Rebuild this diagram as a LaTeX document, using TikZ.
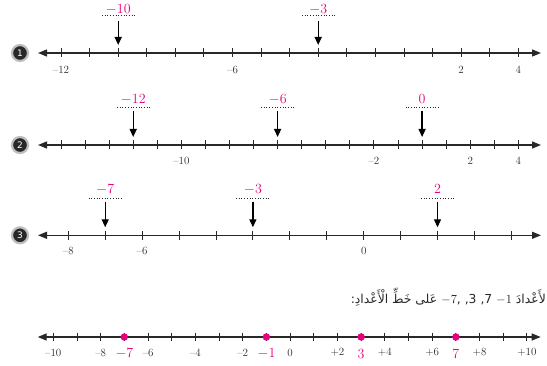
\documentclass[tikz,border=0pt]{standalone}
\usepackage{fontspec}
\usepackage{graphicx}
\newfontfamily\arabicfont[Script=Arabic]{DejaVu Sans}
\newfontfamily\badgefont{DejaVu Sans}
\TeXXeTstate=1
\usetikzlibrary{arrows.meta}
\definecolor{mag}{RGB}{230,0,126}
\definecolor{ink}{RGB}{40,40,40}
\begin{document}
\begin{tikzpicture}[x=1pt,y=-1pt,
 axis/.style={draw=ink,line width=1.3pt,{Triangle[length=9pt,width=7pt]}-{Triangle[length=9pt,width=7pt]}},
 tck/.style={draw=ink,line width=0.9pt},
 numlab/.style={text=ink,font=\fontsize{11}{13}\selectfont,inner sep=0pt},
 maglab/.style={text=mag,font=\fontsize{14}{16}\selectfont,inner sep=0pt},
 downarr/.style={draw=black,line width=1.3pt,-{Triangle[length=8pt,width=7pt]}},
 dots/.style={draw=ink,dotted,line width=0.7pt},
 badge/.style={circle,fill=ink,text=white,minimum size=16pt,inner sep=0pt,font=\badgefont\fontsize{9}{10}\selectfont,draw=black!25,line width=2.2pt},
 pt/.style={circle,fill=mag,minimum size=7.5pt,inner sep=0pt}
]
\useasboundingbox (0,0) rectangle (547,366);

% ---------- line 1 ----------
\node[badge] (b1) at (20,53) {1};
\coordinate (l1a) at (38,53); \coordinate (l1b) at (541,53);
\draw[axis] (l1a) -- (l1b);
\foreach \v in {-12,...,4} \draw[tck] ({61+(\v+12)*28.58},48.5) -- ++(0,9);
\node[numlab] (l1n12) at (61,69.5) {–12};
\node[numlab] (l1n6) at (232.5,69.5) {–6};
\node[numlab] (l1p2) at (461.1,69.5) {2};
\node[numlab] (l1p4) at (518.3,69.5) {4};
\node[maglab] (l1m10) at (118.2,9) {$-$10};
\draw[dots] (102,15.7) -- (135,15.7);
\coordinate (l1s10) at (118.2,21); \coordinate (l1e10) at (118.2,45);
\draw[downarr] (l1s10) -- (l1e10);
\node[maglab] (l1m3) at (318.2,9) {$-$3};
\draw[dots] (302,15.7) -- (335,15.7);
\coordinate (l1s3) at (318.2,21); \coordinate (l1e3) at (318.2,45);
\draw[downarr] (l1s3) -- (l1e3);

% ---------- line 2 ----------
\node[badge] (b2) at (20,145) {2};
\coordinate (l2a) at (38,145); \coordinate (l2b) at (541,145);
\draw[axis] (l2a) -- (l2b);
\foreach \v in {-15,...,4} \draw[tck] ({61+(\v+15)*24.07},140.5) -- ++(0,9);
\node[numlab] (l2n10) at (181.4,160.5) {–10};
\node[numlab] (l2n2) at (373.9,160.5) {–2};
\node[numlab] (l2p2) at (470.2,160.5) {2};
\node[numlab] (l2p4) at (518.3,160.5) {4};
\node[maglab] (l2m12) at (133.2,99) {$-$12};
\draw[dots] (117,107.3) -- (150,107.3);
\coordinate (l2s12) at (133.2,111); \coordinate (l2e12) at (133.2,137);
\draw[downarr] (l2s12) -- (l2e12);
\node[maglab] (l2m6) at (277.6,99) {$-$6};
\draw[dots] (261,107.3) -- (294,107.3);
\coordinate (l2s6) at (277.6,111); \coordinate (l2e6) at (277.6,137);
\draw[downarr] (l2s6) -- (l2e6);
\node[maglab] (l2m0) at (422.1,99) {0};
\draw[dots] (405.5,107.3) -- (438.5,107.3);
\coordinate (l2s0) at (422.1,111); \coordinate (l2e0) at (422.1,137);
\draw[downarr] (l2s0) -- (l2e0);

% ---------- line 3 ----------
\node[badge] (b3) at (20,235.3) {3};
\coordinate (l3a) at (38,235.3); \coordinate (l3b) at (541,235.3);
\draw[axis] (l3a) -- (l3b);
\foreach \v in {-8,...,4} \draw[tck] ({68.3+(\v+8)*36.92},230.8) -- ++(0,9);
\node[numlab] (l3n8) at (68.3,250.5) {–8};
\node[numlab] (l3n6) at (142.1,250.5) {–6};
\node[numlab] (l3z) at (363.7,250.5) {0};
\node[maglab] (l3m7) at (105.2,189) {$-$7};
\draw[dots] (88.5,198.3) -- (121.5,198.3);
\coordinate (l3s7) at (105.2,201.7); \coordinate (l3e7) at (105.2,227.3);
\draw[downarr] (l3s7) -- (l3e7);
\node[maglab] (l3m3) at (252.9,189) {$-$3};
\draw[dots] (236,198.3) -- (269,198.3);
\coordinate (l3s3) at (252.9,201.7); \coordinate (l3e3) at (252.9,227.3);
\draw[downarr] (l3s3) -- (l3e3);
\node[maglab] (l3p2) at (437.5,189) {2};
\draw[dots] (421,198.3) -- (454,198.3);
\coordinate (l3s2) at (437.5,201.7); \coordinate (l3e2) at (437.5,227.3);
\draw[downarr] (l3s2) -- (l3e2);

% ---------- text ----------
\node[anchor=east,inner sep=0pt,text=ink] (txt) at (546,297)
  {\resizebox{195pt}{!}{\arabicfont\beginR لأَعْدادَ \beginL$-7$, 3, 7, $-1$\endL{} عَلى خَطِّ الْأَعْدادِ:\endR}};

% ---------- line 4 ----------
\coordinate (l4a) at (37.7,337); \coordinate (l4b) at (540.7,337);
\draw[axis] (l4a) -- (l4b);
\foreach \v in {-10,...,10} \draw[tck] ({53.3+(\v+10)*23.68},332.7) -- ++(0,8.6);
\foreach \v/\t in {-10/–10,-8/–8,-6/–6,-4/–4,-2/–2,0/0,2/+2,4/+4,6/+6,8/+8,10/+10}
  \node[numlab] (l4n\v) at ({53.3+(\v+10)*23.68},352.5) {\t};
\node[pt] (d7m) at (124.3,337) {};
\node[pt] (d1m) at (266.4,337) {};
\node[pt] (d3) at (361.1,337) {};
\node[pt] (d7) at (455.9,337) {};
\node[maglab] (m7m) at (124.3,353.5) {$-$7};
\node[maglab] (m1m) at (266.4,353.5) {$-$1};
\node[maglab] (m3) at (361.1,353.5) {3};
\node[maglab] (m7) at (455.9,353.5) {7};
\end{tikzpicture}
\end{document}
